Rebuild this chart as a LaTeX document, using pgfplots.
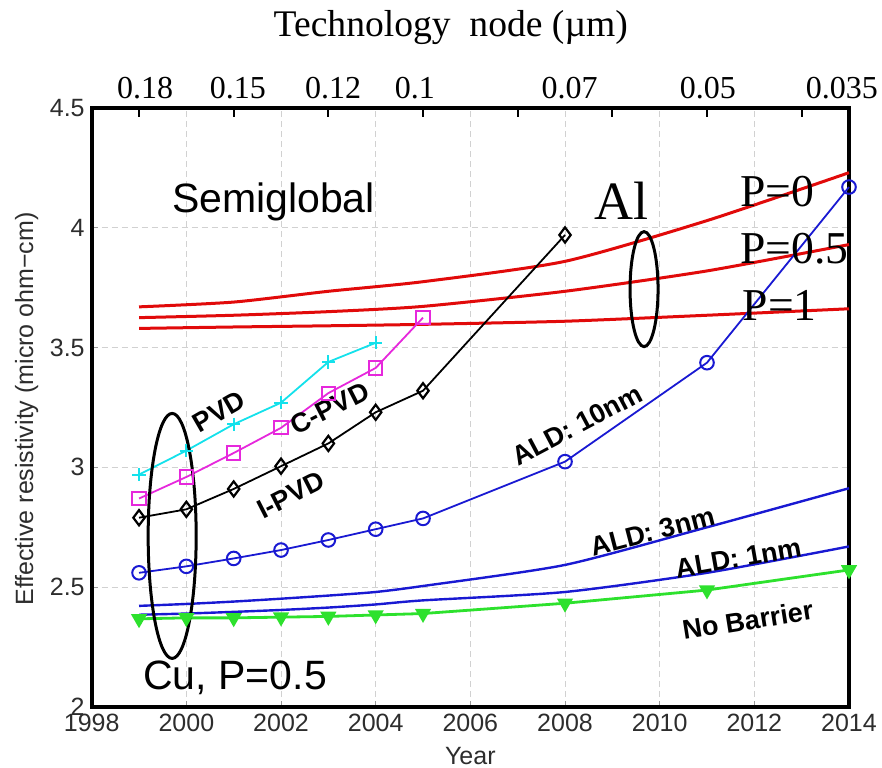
\documentclass[border=0pt]{standalone}
\usepackage{fontspec}
\setmainfont{Liberation Serif}
\setsansfont{Liberation Sans}
\newfontfamily\helv{Liberation Sans}
\newfontfamily\tms{Liberation Serif}
\usepackage{pgfplots}
\pgfplotsset{compat=1.18}

\definecolor{alred}{RGB}{225,10,10}
\definecolor{pvdcyan}{RGB}{20,225,235}
\definecolor{cpvdmag}{RGB}{230,40,220}
\definecolor{aldblue}{RGB}{25,25,210}
\definecolor{nbgreen}{RGB}{45,225,45}
\definecolor{tickgray}{RGB}{45,45,45}

\begin{document}
\begin{tikzpicture}
\begin{axis}[
  scale only axis, width=378.65pt, height=299.5pt,
  xmin=1998, xmax=2014, ymin=2, ymax=4.5,
  xtick={1998,2000,...,2014}, ytick={2,2.5,...,4.5},
  xtick pos=left, ytick pos=left, tick align=inside,
  major tick length=3pt, tick style={black!40, line width=0.5pt},
  grid=major, grid style={densely dashed, black!18, line width=0.5pt},
  axis line style={black, line width=2pt},
  /pgf/number format/assume math mode=true,
  /pgf/number format/1000 sep={},
  tick label style={font=\helv\fontsize{12.5}{14}\selectfont, text=tickgray},
  xlabel={Year},
  ylabel={Effective resistivity (micro ohm−cm)},
  label style={font=\helv\fontsize{12.5}{14}\selectfont, text=tickgray},
  xlabel style={at={(rel axis cs:0.5,-0.096)}, anchor=base},
  ylabel style={at={(rel axis cs:-0.0775,0.4975)}, anchor=base},
  clip=false,
]
% Al lines for three specularity values
\addplot[alred, line width=1.5pt, smooth, tension=0.4] coordinates {
  (1999,3.670) (2001,3.690) (2003,3.735) (2005,3.775) (2008,3.860) (2011,4.030) (2014,4.230)};
\addplot[alred, line width=1.5pt, smooth, tension=0.4] coordinates {
  (1999,3.625) (2001,3.635) (2003,3.650) (2005,3.672) (2008,3.735) (2011,3.820) (2014,3.930)};
\addplot[alred, line width=1.5pt, smooth, tension=0.4] coordinates {
  (1999,3.580) (2001,3.586) (2003,3.591) (2005,3.597) (2008,3.610) (2011,3.635) (2014,3.662)};

% Cu with PVD barriers
\addplot[pvdcyan, line width=0.9pt, mark=+, mark size=3.3pt, mark options={line width=1pt}] coordinates {
  (1999,2.970) (2000,3.070) (2001,3.180) (2002,3.270) (2003,3.440) (2004,3.520)};
\addplot[cpvdmag, line width=0.9pt, mark=square, mark size=3.3pt, mark options={line width=1pt}] coordinates {
  (1999,2.870) (2000,2.960) (2001,3.060) (2002,3.165) (2003,3.310) (2004,3.415) (2005,3.625)};
\addplot[black, line width=0.9pt, mark=diamond, mark size=3.8pt, mark options={line width=1.1pt}] coordinates {
  (1999,2.790) (2000,2.825) (2001,2.910) (2002,3.005) (2003,3.100) (2004,3.230) (2005,3.320) (2008,3.970)};

% Cu with ALD barriers
\addplot[aldblue, line width=0.9pt, mark=o, mark size=3.4pt, mark options={line width=1pt}] coordinates {
  (1999,2.560) (2000,2.587) (2001,2.620) (2002,2.655) (2003,2.697) (2004,2.742) (2005,2.787) (2008,3.024) (2011,3.437) (2014,4.170)};
\addplot[aldblue, line width=1.2pt, smooth, tension=0.4] coordinates {
  (1999,2.422) (2000,2.430) (2001,2.440) (2002,2.452) (2003,2.465) (2004,2.480) (2005,2.505) (2008,2.593) (2011,2.750) (2014,2.913)};
\addplot[aldblue, line width=1.2pt, smooth, tension=0.4] coordinates {
  (1999,2.385) (2000,2.390) (2001,2.397) (2002,2.405) (2003,2.415) (2004,2.428) (2005,2.445) (2008,2.480) (2011,2.560) (2014,2.670)};

% Cu without barrier
\addplot[nbgreen, line width=1.4pt, mark=triangle*, mark size=3.3pt, mark options={rotate=180, fill=nbgreen}] coordinates {
  (1999,2.368) (2000,2.372) (2001,2.372) (2002,2.375) (2003,2.378) (2004,2.384) (2005,2.390) (2008,2.433) (2011,2.488) (2014,2.572)};

% annotations
\node[font=\helv\fontsize{20.5}{24}\selectfont, anchor=base] at (axis cs:2001.84,4.063) {Semiglobal};
\node[font=\helv\fontsize{20.5}{24}\selectfont, anchor=base] at (axis cs:2001.03,2.071) {Cu, P=0.5};
\node[font=\tms\fontsize{27}{30}\selectfont, anchor=base] at (axis cs:2009.20,4.033) {Al};
\node[font=\tms\fontsize{22.8}{26}\selectfont, anchor=base west, inner sep=0pt] at (axis cs:2011.70,4.088) {P=0};
\node[font=\tms\fontsize{22.8}{26}\selectfont, anchor=base west, inner sep=0pt] at (axis cs:2011.70,3.852) {P=0.5};
\node[font=\tms\fontsize{22.8}{26}\selectfont, anchor=base west, inner sep=0pt] at (axis cs:2011.75,3.615) {P=1};

\draw[line width=1.5pt] (axis cs:1999.70,2.714) ellipse [x radius=12pt, y radius=61.25pt];
\draw[line width=1.5pt] (axis cs:2009.67,3.744) ellipse [x radius=7pt, y radius=28.75pt];

\begin{scope}[every node/.style={font=\helv\bfseries\fontsize{13.5}{16}\selectfont, inner sep=0pt}]
\node[rotate=30] at (axis cs:2000.69,3.231) {PVD};
\node[rotate=27] at (axis cs:2003.03,3.248) {C-PVD};
\node[rotate=27] at (axis cs:2002.21,2.885) {I-PVD};
\node[rotate=28] at (axis cs:2008.26,3.177) {ALD: 10nm};
\node[rotate=14.5] at (axis cs:2009.85,2.732) {ALD: 3nm};
\node[rotate=10] at (axis cs:2011.66,2.622) {ALD: 1nm};
\node[rotate=9] at (axis cs:2011.86,2.363) {No Barrier};
\end{scope}

\node[font=\tms\fontsize{18.8}{22}\selectfont, anchor=base] at (rel axis cs:0.4742,1.119) {Technology\hspace{0.25em} node (µm)};

\coordinate (bbsw) at (rel axis cs:-0.1211,-0.1002);
\coordinate (bbne) at (rel axis cs:1.0436,1.1803);
\end{axis}

% technology node axis along the top
\begin{axis}[
  scale only axis, width=378.65pt, height=299.5pt,
  xmin=1998, xmax=2014, ymin=2, ymax=4.5,
  axis x line*=top, hide y axis,
  axis line style={black, line width=2pt},
  xtick={1999,2001,...,2013}, xticklabels={},
  tick align=inside, major tick length=4.5pt, tick style={black, line width=0.9pt},
  extra x ticks={1999.13,2001.09,2003.1,2004.83,2008.1,2011.02,2013.85},
  extra x tick labels={0.18,0.15,0.12,0.1,0.07,0.05,0.035},
  extra x tick style={major tick length=0pt},
  xticklabel style={font=\tms\fontsize{16}{18}\selectfont, text=black, yshift=1.2pt},
]
\end{axis}

\pgfresetboundingbox
\path[use as bounding box] (bbsw) rectangle (bbne);
\end{tikzpicture}
\end{document}
